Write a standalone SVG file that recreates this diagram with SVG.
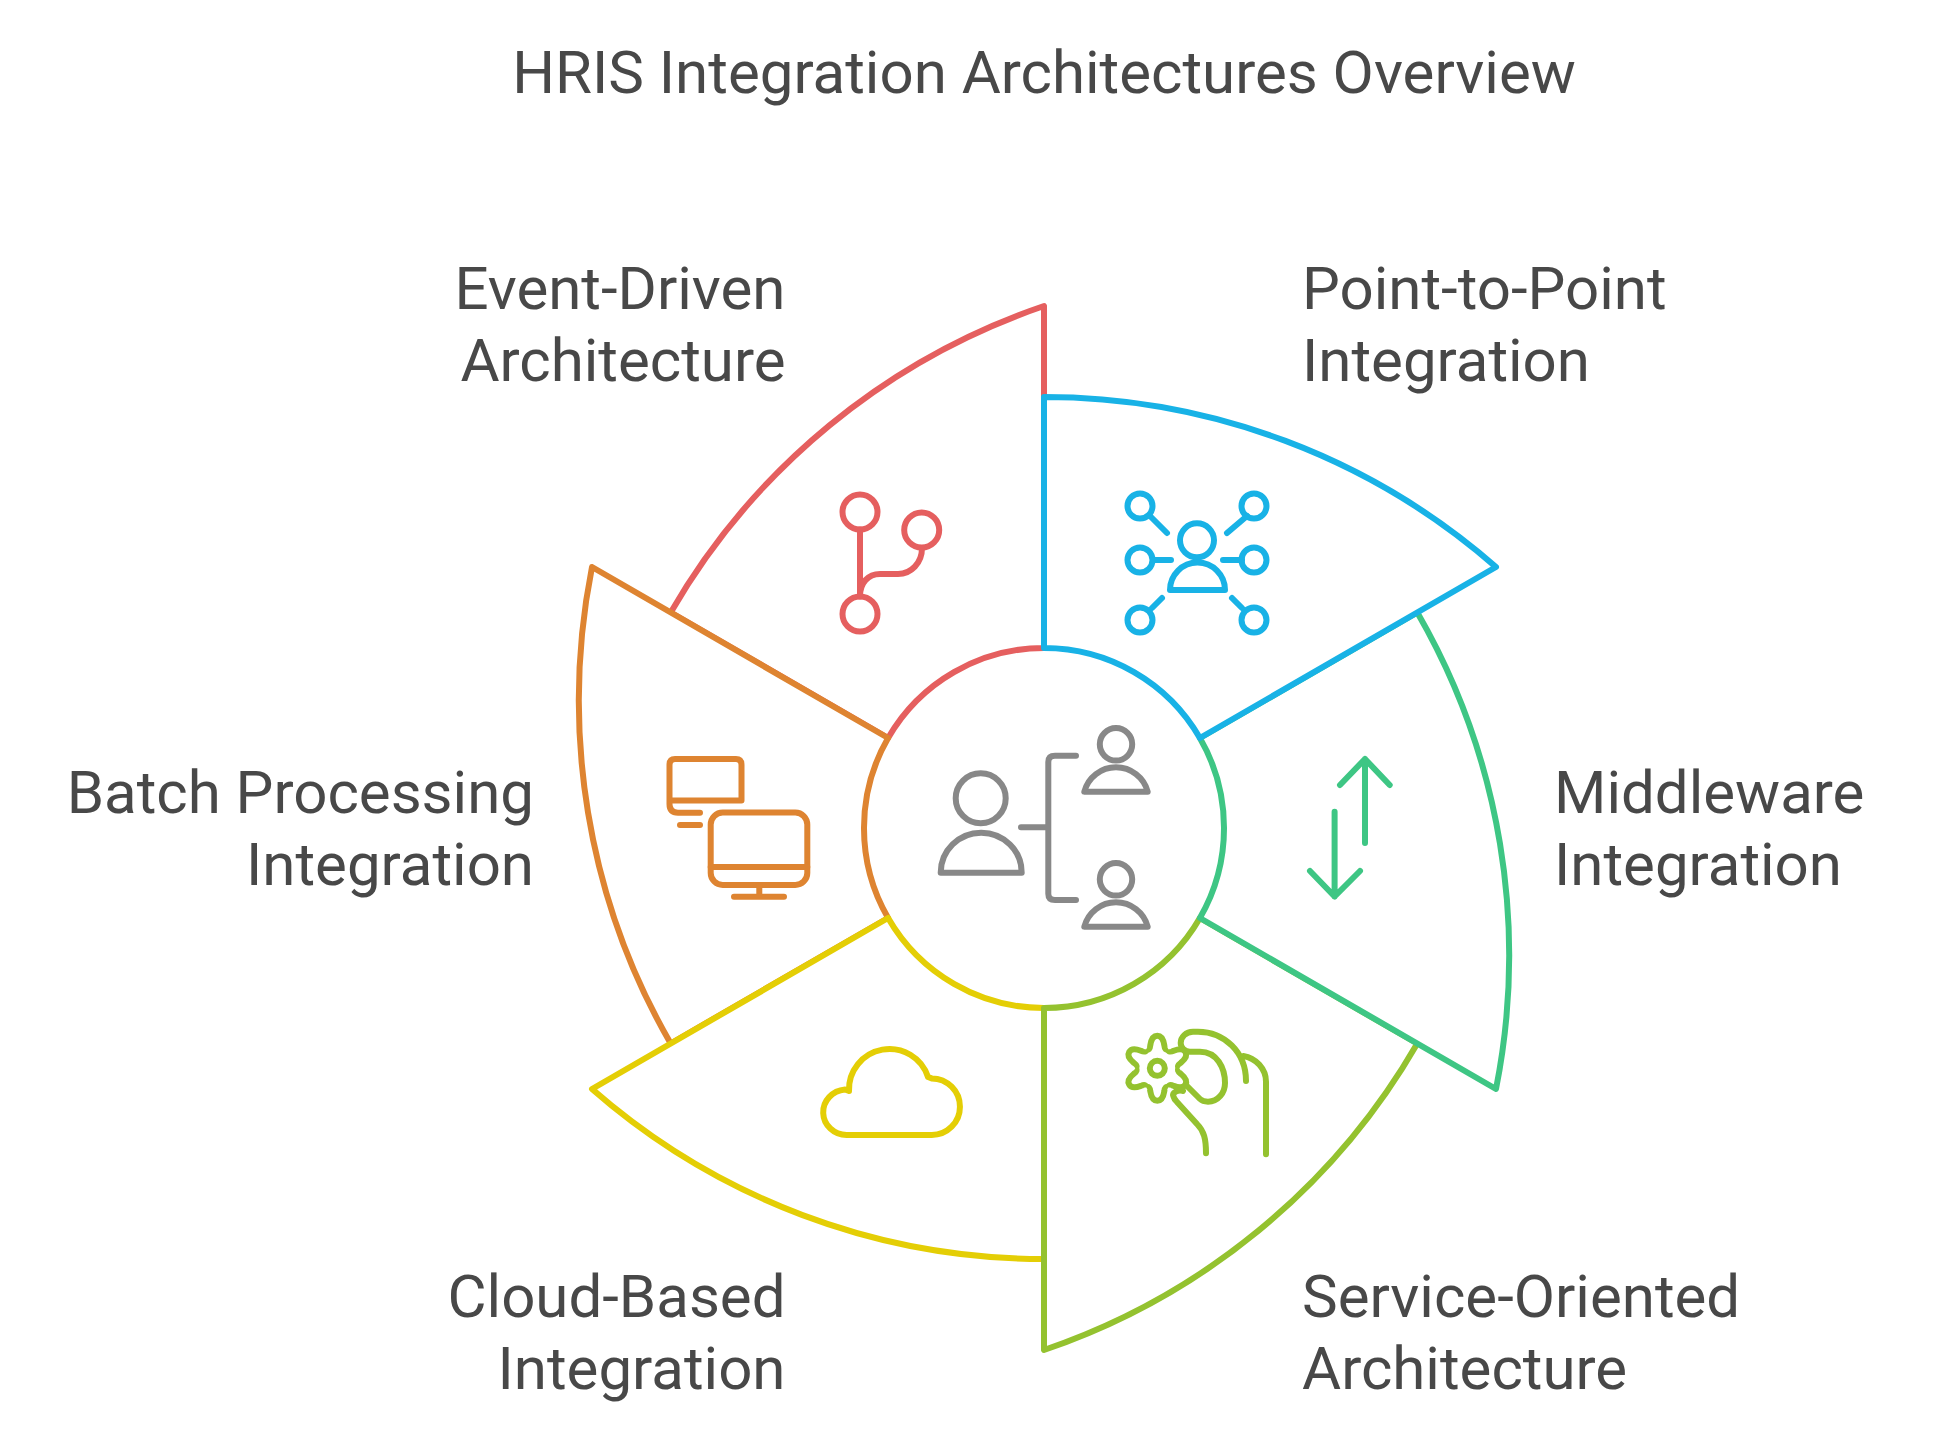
<svg xmlns="http://www.w3.org/2000/svg" width="1944" height="1440" viewBox="0 0 1944 1440">
<style>
text{font-family:Roboto,"Liberation Sans",sans-serif;fill:#484848;font-size:60px}
.title{text-anchor:middle}
.end{text-anchor:end}
.sector{fill:#fff;stroke-width:6}
g path,g circle,g line{stroke-linecap:round;stroke-linejoin:round}
.icon *{fill:none;stroke-width:6}
.red *,.red{stroke:#E55F5F}
.orange *,.orange{stroke:#DE8431}
.yellow *,.yellow{stroke:#E4CE05}
.olive *,.olive{stroke:#94C22F}
.green *,.green{stroke:#3EC684}
.blue *,.blue{stroke:#18B2E6}
.gray *{stroke:#888888}
</style>
<defs>
<path id="tooth" d="M-11 -19Q-7.5 -17.5 -7 -23Q-5.5 -32.5 0 -32.5Q5.5 -32.5 7 -23Q7.5 -17.5 11 -19"/>
</defs>
<rect width="1944" height="1440" fill="#fff"/>
<text class="title" x="1044" y="92.5">HRIS Integration Architectures Overview</text>

<g id="node-event-driven">
<path class="sector red" d="M888.1 738L670.7 612.5A686 686 0 0 1 1044 306L1044 648A180 180 0 0 0 888.1 738Z"/>
<g class="icon red">
<circle cx="860" cy="512" r="17.5"/><circle cx="921.7" cy="530" r="17.5"/><circle cx="860" cy="614" r="17.5"/>
<path d="M860 529.5V596.5"/>
<path d="M860 596C860 583 868 574 880 574H898C911 574 922 563 922 548"/>
</g>
<text class="end" x="785.5" y="309">Event-Driven</text>
<text class="end" x="785.5" y="381">Architecture</text>
</g>

<g id="node-batch">
<path class="sector orange" d="M888.1 918L670.7 1043.5A686 686 0 0 1 592 567L888.1 738A180 180 0 0 0 888.1 918Z"/>
<g class="icon orange">
<path d="M700 812.7H678Q669.5 812.7 669.5 804V765Q669.5 759 675 759H736Q741.5 759 741.5 765V800.4H669.5"/>
<path d="M680 825H700"/>
<rect x="710.7" y="812.6" width="96.6" height="72.4" rx="12"/>
<path d="M710.7 867H807.3M759.3 885V896.7M734 896.7H784"/>
</g>
<text class="end" x="534" y="813">Batch Processing</text>
<text class="end" x="534" y="885">Integration</text>
</g>

<g id="node-cloud">
<path class="sector yellow" d="M1044 1008L1044 1259A686 686 0 0 1 592 1089L888.1 918A180 180 0 0 0 1044 1008Z"/>
<g class="icon yellow">
<path d="M846.7 1135H931.7A28.3 28.3 0 0 0 931.7 1078.4L928 1077A40.5 40.5 0 0 0 849 1091L845 1089.5A24 22.8 0 0 0 846.7 1135Z"/>
</g>
<text class="end" x="785.5" y="1317">Cloud-Based</text>
<text class="end" x="785.5" y="1389">Integration</text>
</g>

<g id="node-service">
<path class="sector olive" d="M1199.9 918L1417.3 1043.5A686 686 0 0 1 1044 1350L1044 1008A180 180 0 0 0 1199.9 918Z"/>
<g class="icon olive">
<circle cx="1157.3" cy="1068.3" r="7.5"/>
<g transform="translate(1157.3 1068.3)">
<use href="#tooth"/><use href="#tooth" transform="rotate(60)"/><use href="#tooth" transform="rotate(120)"/><use href="#tooth" transform="rotate(180)"/><use href="#tooth" transform="rotate(240)"/><use href="#tooth" transform="rotate(300)"/>
</g>
<path d="M1246 1081C1246 1052 1224 1031.7 1198 1031.7H1193C1186 1031.7 1180.7 1037 1180.7 1043C1180.7 1048 1185 1051.7 1190 1051.7H1200C1217 1051.7 1225 1068 1225 1083C1225 1093 1218 1101.7 1208 1101.7C1204 1101.7 1202 1101 1200 1099L1187 1086"/>
<path d="M1183 1091C1178 1089 1172 1093 1173.3 1096C1174 1099 1175 1100 1177 1102L1197 1124C1204 1131 1206 1139 1206 1153.3"/>
<path d="M1243.3 1056C1256 1058 1266 1069 1266 1081.7V1154.3"/>
</g>
<text x="1302" y="1317">Service-Oriented</text>
<text x="1302" y="1389">Architecture</text>
</g>

<g id="node-middleware">
<path class="sector green" d="M1199.9 738L1417.3 612.5A686 686 0 0 1 1496 1089L1199.9 918A180 180 0 0 0 1199.9 738Z"/>
<g class="icon green">
<path d="M1365 759V843M1340 785L1365 759L1389.7 785"/>
<path d="M1334.6 811.7V896.5M1310 871L1334.6 896.5L1360 871"/>
</g>
<text x="1554" y="813">Middleware</text>
<text x="1554" y="885">Integration</text>
</g>

<g id="node-point-to-point">
<path class="sector blue" d="M1044 648L1044 397A686 686 0 0 1 1496 567L1199.9 738A180 180 0 0 0 1044 648Z"/>
<g class="icon blue">
<circle cx="1140" cy="506" r="12.5"/><circle cx="1254" cy="506" r="12.5"/><circle cx="1140" cy="560" r="12.5"/><circle cx="1254" cy="560" r="12.5"/><circle cx="1140" cy="620" r="12.5"/><circle cx="1254" cy="620" r="12.5"/>
<circle cx="1197" cy="540.3" r="17"/>
<path d="M1170 590H1225A27.5 27.5 0 0 0 1170 590Z"/>
<path d="M1150 516L1167 533M1247 516L1227 533M1153 560H1171M1223 560H1242M1152 608L1162 598M1242 608L1232 598"/>
</g>
<text x="1302" y="309">Point-to-Point</text>
<text x="1302" y="381">Integration</text>
</g>

<g id="node-center" class="icon gray">
<circle cx="980.7" cy="798.3" r="25"/>
<path d="M940.7 872.7H1021.7A40.5 40 0 0 0 940.7 872.7Z"/>
<path d="M1076 755.7H1055Q1048.3 755.7 1048.3 762V893.7Q1048.3 900 1055 900H1076M1021 827.3H1048"/>
<circle cx="1116" cy="744.3" r="16.2"/>
<path d="M1084.3 791.7H1147.7A32.8 32.8 0 0 0 1084.3 791.7Z"/>
<circle cx="1116" cy="879.3" r="16.2"/>
<path d="M1084.3 926.7H1147.7A32.8 32.8 0 0 0 1084.3 926.7Z"/>
</g>
</svg>
